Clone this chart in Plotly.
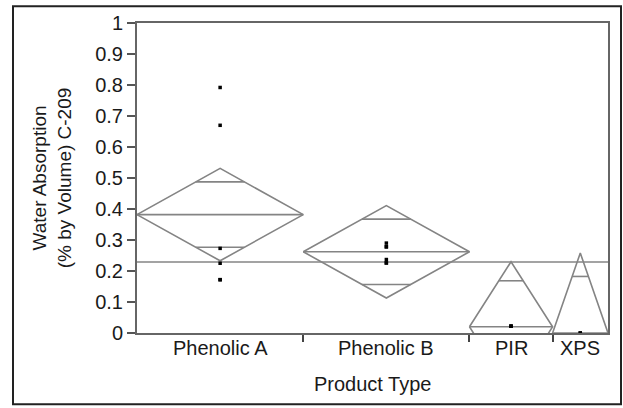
import math
import plotly.graph_objects as go

categories = ["Phenolic A", "Phenolic B", "PIR", "XPS"]
sizes = [6, 6, 3, 2]
means = [0.382, 0.262, 0.020, 0.0]
ci_half = [0.149, 0.149, 0.210, 0.258]
grand_mean = 0.229
points = [
    [0.792, 0.670, 0.273, 0.225, 0.172, 0.172],
    [0.290, 0.278, 0.278, 0.237, 0.226, 0.226],
    [0.022, 0.022, 0.022],
    [0.0, 0.0],
]
y_ticks = [0, 0.1, 0.2, 0.3, 0.4, 0.5, 0.6, 0.7, 0.8, 0.9, 1]

GRAY = "#848484"
FONT = "Liberation Sans, Arial, sans-serif"

# segment boundaries
lefts, rights, centers = [], [], []
acc = 0
for n in sizes:
    lefts.append(acc)
    rights.append(acc + n)
    centers.append(acc + n / 2)
    acc += n
total = acc

fig = go.Figure()

dx, dy = [], []
for i in range(len(categories)):
    l, r, c, m, h = lefts[i], rights[i], centers[i], means[i], ci_half[i]
    # diamond
    dx += [l, c, r, c, l, None]
    dy += [m, m + h, m, m - h, m, None]
    # mean line
    dx += [l, r, None]
    dy += [m, m, None]
    # overlap marks
    frac = 1 - 1 / math.sqrt(2)
    half = (r - l) / 2 * frac
    for s in (1, -1):
        yy = m + s * h / math.sqrt(2)
        dx += [c - half, c + half, None]
        dy += [yy, yy, None]

fig.add_trace(go.Scatter(x=dx, y=dy, mode="lines",
                         line=dict(color=GRAY, width=1.6),
                         hoverinfo="skip", showlegend=False))
# grand mean
fig.add_trace(go.Scatter(x=[0, total], y=[grand_mean, grand_mean], mode="lines",
                         line=dict(color=GRAY, width=1.6),
                         hoverinfo="skip", showlegend=False))
# points
px, py = [], []
for i, pts in enumerate(points):
    for v in pts:
        px.append(centers[i])
        py.append(v)
fig.add_trace(go.Scatter(x=px, y=py, mode="markers",
                         marker=dict(symbol="square", size=3.5, color="black",
                                     line=dict(width=0)),
                         cliponaxis=False, showlegend=False))

annotations = []
for c, name in zip(centers, categories):
    annotations.append(dict(x=c, y=0, xref="x", yref="y", text=name,
                            showarrow=False, yanchor="top", yshift=-2,
                            font=dict(size=20, family=FONT, color="#1a1a1a")))
annotations.append(dict(x=0.5, y=-38 / 313, xref="paper", yref="paper",
                        text="Product Type", showarrow=False, yanchor="top",
                        font=dict(size=20, family=FONT, color="#1a1a1a")))

fig.update_layout(
    width=623, height=408,
    margin=dict(l=137, r=15, t=20, b=75),
    paper_bgcolor="white", plot_bgcolor="white",
    font=dict(family=FONT, color="#1a1a1a", size=20),
    xaxis=dict(range=[0, total], tickvals=rights[:-1], showticklabels=False,
               ticks="outside", ticklen=7, tickwidth=1.5, tickcolor="#444444",
               showgrid=False, zeroline=False,
               showline=True, linecolor="#666666", linewidth=2, mirror=True),
    yaxis=dict(range=[0, 1], tickvals=y_ticks, ticks="outside", ticklen=8,
               tickwidth=1.5, tickcolor="#555555", showgrid=False, zeroline=False,
               showline=True, linecolor="#666666", linewidth=2, mirror=True,
               tickfont=dict(size=20),
               title=dict(text="Water Absorption<br>(% by Volume) C-209",
                          font=dict(size=19), standoff=19)),
    annotations=annotations,
    shapes=[dict(type="rect", xref="paper", yref="paper",
                 x0=-124 / 471, x1=1 + 13 / 471, y0=-72 / 313, y1=1 + 17 / 313,
                 line=dict(color="#222222", width=2), layer="below")],
)

fig.write_html("out.html")
